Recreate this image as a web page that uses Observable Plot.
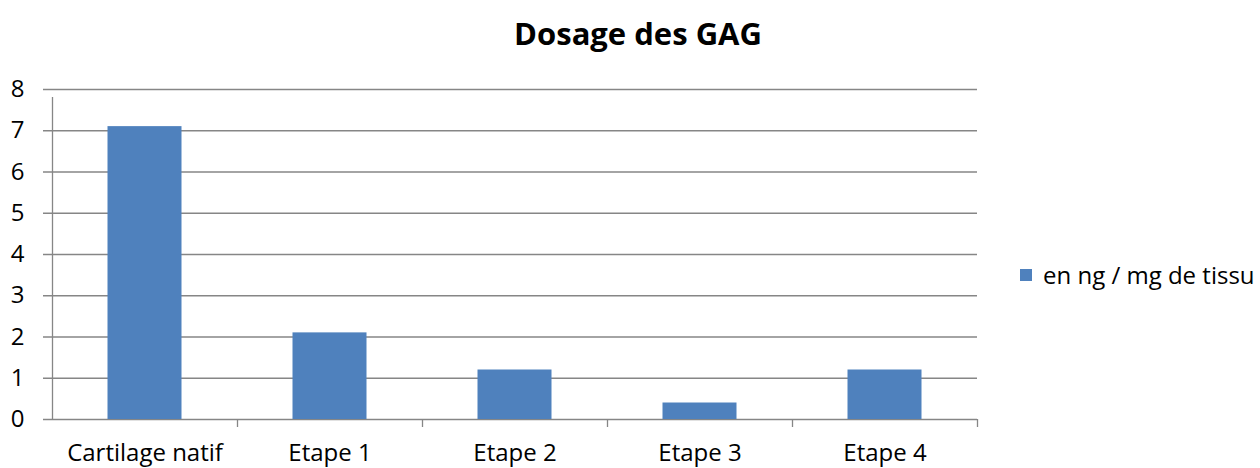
<!DOCTYPE html>
<html>
<head>
<meta charset="utf-8">
<script src="https://cdn.jsdelivr.net/npm/d3@7"></script>
<script src="https://cdn.jsdelivr.net/npm/@observablehq/plot@0.6"></script>
<style>
  html, body { margin: 0; padding: 0; background: #fff; }
  #wrap { position: relative; width: 1260px; height: 468px; font-family: "Open Sans", sans-serif; color: #000; }
  #title { position: absolute; left: 0; width: 1276px; top: 13px; text-align: center; font-weight: bold; font-size: 31px; line-height: 40px; }
  #legend { position: absolute; left: 1020px; top: 259px; font-size: 24px; line-height: 32px; display: flex; align-items: center; white-space: nowrap; }
  #legend .sw { width: 12px; height: 12px; margin-right: 11px; }
</style>
</head>
<body>
<div id="wrap">
  <div id="title"></div>
  <div id="legend"><span class="sw"></span><span class="lab"></span></div>
</div>
<script>
const title = "Dosage des GAG";
const categories = ["Cartilage natif", "Etape 1", "Etape 2", "Etape 3", "Etape 4"];
const values = [7.1, 2.1, 1.2, 0.4, 1.2];
const yTicks = [0, 1, 2, 3, 4, 5, 6, 7, 8];
const seriesName = "en ng / mg de tissu";
const barColor = "#4F81BD";

const data = categories.map((c, i) => ({category: c, value: values[i]}));

const W = 1260, H = 468, mL = 52, mR = 283, mT = 89, mB = 49;
const step = (W - mL - mR) / categories.length;
const gridColor = "#868686";

const chart = Plot.plot({
  width: W, height: H,
  marginLeft: mL, marginRight: mR, marginTop: mT, marginBottom: mB,
  style: {fontFamily: "'Open Sans', sans-serif", fontSize: "24px", color: "#000", background: "#fff", overflow: "visible"},
  x: {domain: categories, padding: 0, label: null},
  y: {domain: [0, 8], ticks: yTicks, label: null},
  marks: [
    Plot.ruleY(yTicks, {y: d => d, stroke: gridColor, strokeWidth: 1.3, insetLeft: -9}),
    Plot.barY(data, {x: "category", y: "value", fill: barColor, insetLeft: step * 0.3, insetRight: step * 0.3}),
    // y axis line
    Plot.ruleX([categories[0]], {x: d => d, dx: -step / 2, y1: 0, y2: 8, stroke: gridColor, strokeWidth: 1.3, insetBottom: -8}),
    // category boundary ticks
    Plot.ruleX(categories, {x: d => d, dx: step / 2, y1: 0, y2: 0, stroke: gridColor, strokeWidth: 1.3, insetBottom: -8}),
    Plot.axisY(yTicks, {tickSize: 0, tickPadding: 28, fontSize: 24, fill: "#000"}),
    Plot.axisX({tickSize: 0, tickPadding: 24, fontSize: 24, fill: "#000"})
  ]
});

document.getElementById("wrap").appendChild(chart);
chart.style.position = "absolute";
chart.style.left = "0px";
chart.style.top = "0px";
document.getElementById("title").textContent = title;
document.getElementById("title").style.zIndex = 2;
document.getElementById("legend").style.zIndex = 2;
document.querySelector("#legend .sw").style.background = barColor;
document.querySelector("#legend .lab").textContent = seriesName;
</script>
</body>
</html>
